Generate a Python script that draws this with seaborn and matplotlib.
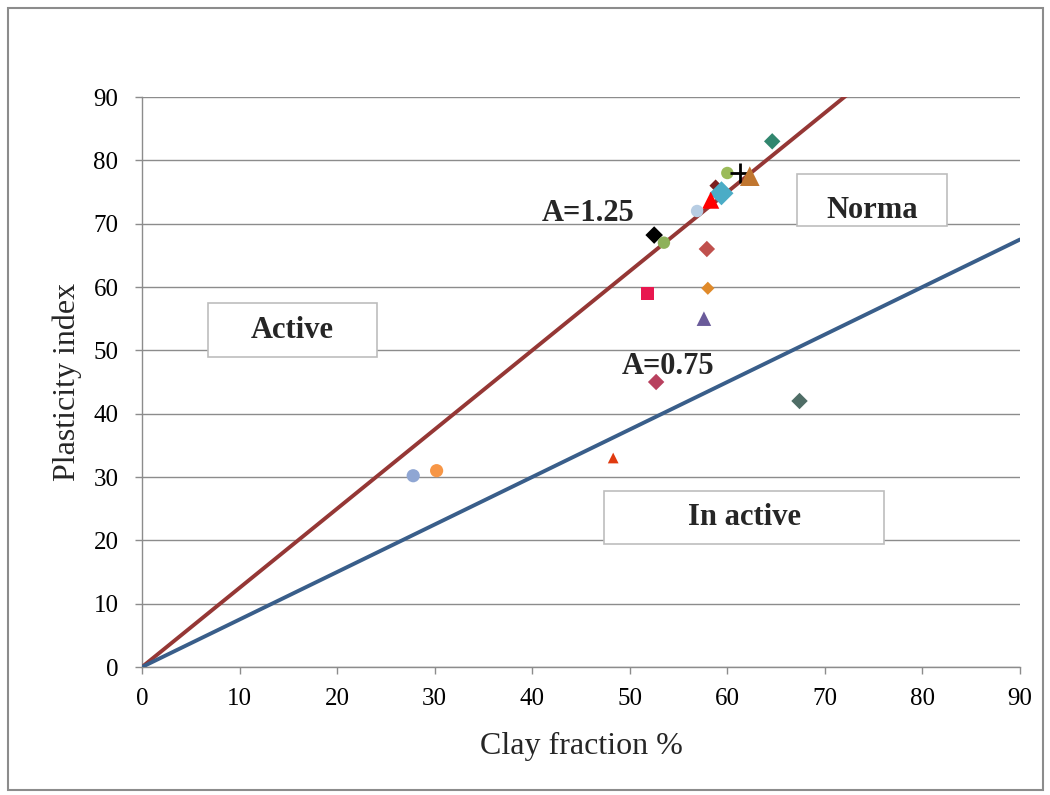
import matplotlib
matplotlib.use("Agg")
import matplotlib.pyplot as plt
import seaborn as sns
import numpy as np
import pandas as pd
from matplotlib.patches import Rectangle

# ---- data ----
clay = [64.6, 60.0, 61.3, 62.3, 58.8, 59.4, 58.3, 56.9, 52.5, 53.5, 57.9,
        51.8, 58.0, 57.6, 52.7, 67.4, 48.3, 27.8, 30.2]
pi = [83.0, 78.0, 78.0, 77.5, 76.0, 74.8, 73.7, 72.0, 68.2, 67.0, 66.0,
      59.0, 59.8, 55.0, 45.0, 42.0, 33.0, 30.2, 31.0]
activity_values = [1.25, 0.75]
activity_labels = ["A=1.25", "A=0.75"]
zone_labels = ["Active", "In active", "Norma"]
ticks = list(range(0, 100, 10))

# ---- styles ----
colors = ["#31866e", "#9bbb59", "#000000", "#c0762f", "#7b2020", "#4bacc6",
          "#ff0000", "#b7cde3", "#000000", "#8db15a", "#c0504d",
          "#e8174f", "#e08a2a", "#6a5b9a", "#b8405e", "#4f6d66", "#e03a10",
          "#8fa6d3", "#f79646"]
markers = ["D", "o", "+", "^", "D", "D", "^", "o", "D", "o", "D",
           "s", "D", "^", "D", "D", "^", "o", "o"]
sizes = [70, 80, 220, 200, 40, 150, 150, 80, 80, 80, 70,
         80, 45, 110, 70, 70, 60, 90, 90]
line_colors = ["#953735", "#395e8a"]

sns.set_theme(style="white")
plt.rcParams["font.family"] = ["Liberation Serif", "DejaVu Serif"]

fig = plt.figure(figsize=(10.5, 7.95), dpi=100)
ax = fig.add_axes([142/1050, 1-667/795, (1020-142)/1050, (667-97)/795])

# activity lines
xs = np.array([0, 90])
for a, c in zip(activity_values, line_colors):
    sns.lineplot(x=xs, y=a * xs, ax=ax, color=c, linewidth=2.8, zorder=3)

df = pd.DataFrame({"clay": clay, "pi": pi})
for i in range(len(clay)):
    sub = df.iloc[[i]]
    kw = dict(edgecolor="none") if markers[i] != "+" else dict(linewidth=2)
    sns.scatterplot(data=sub, x="clay", y="pi", ax=ax, color=colors[i],
                    marker=markers[i], s=sizes[i], zorder=4, **kw)

ax.set_xlim(0, 90)
ax.set_ylim(0, 90)
ax.set_xticks(ticks)
ax.set_yticks(ticks)
ax.yaxis.grid(True, color="#8c8c8c", linewidth=1)
ax.xaxis.grid(False)
ax.set_axisbelow(True)
for s in ["top", "right"]:
    ax.spines[s].set_visible(False)
for s in ["left", "bottom"]:
    ax.spines[s].set_color("#8c8c8c")
    ax.spines[s].set_linewidth(1)
ax.tick_params(axis="both", which="both", labelsize=18, colors="#8c8c8c",
               labelcolor="black", length=5, width=1, direction="out",
               bottom=True, left=True)
ax.tick_params(axis="x", pad=10)
ax.tick_params(axis="y", pad=12)
ax.set_xlabel("Clay fraction %", fontsize=23, labelpad=16)
ax.set_ylabel("Plasticity index", fontsize=23, labelpad=8)

# annotation boxes (in data coords)
def px2d(px, py):
    return (px - 142) / (1020 - 142) * 90, (667 - py) / (667 - 97) * 90

boxes = [(208, 303, 377, 357), (604, 491, 884, 544), (797, 174, 947, 226)]
for (x0, y0, x1, y1), lab in zip(boxes, zone_labels):
    dx0, dy1 = px2d(x0, y0)
    dx1, dy0 = px2d(x1, y1)
    ax.add_patch(Rectangle((dx0, dy0), dx1 - dx0, dy1 - dy0, facecolor="white",
                           edgecolor="#bdbdbd", linewidth=1.2, zorder=5,
                           clip_on=False))
    ty = (dy0 + dy1) / 2 if lab != "Norma" else dy0 + (dy1 - dy0) * 0.3
    ax.text((dx0 + dx1) / 2, ty, lab, ha="center", va="center", fontsize=22,
            fontweight="bold", zorder=6)

label_pos = [(588, 213), (668, 366)]
for (px, py), lab in zip(label_pos, activity_labels):
    x, y = px2d(px, py)
    ax.text(x, y, lab, ha="center", va="center", fontsize=22,
            fontweight="bold", zorder=6)

# outer border
fig.patches.append(Rectangle((8/1050, 5/795), 1035/1050, 782/795,
                             transform=fig.transFigure, fill=False,
                             edgecolor="#8c8c8c", linewidth=1.5))

fig.savefig("out.png", dpi=100)
